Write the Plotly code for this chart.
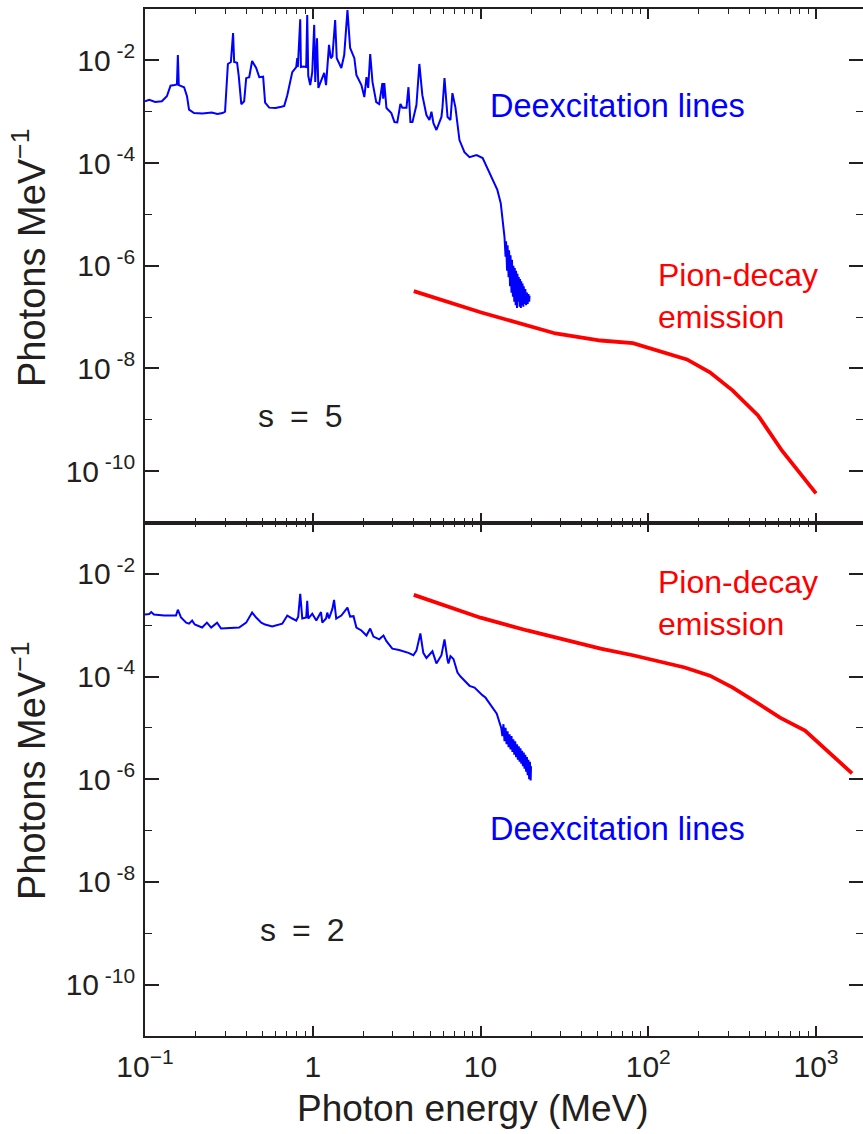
import plotly.graph_objects as go

# ---------------- data ----------------
# Top panel (s = 5): nuclear deexcitation line spectrum
top_deex_energy = [
    0.100, 0.106, 0.115, 0.126, 0.135, 0.142, 0.150, 0.155, 0.157, 0.159,
    0.171, 0.178, 0.183, 0.196, 0.220, 0.250, 0.270, 0.290, 0.300, 0.312,
    0.325, 0.335, 0.340, 0.354, 0.362, 0.375, 0.390, 0.401, 0.418, 0.435,
    0.460, 0.480, 0.506, 0.520, 0.550, 0.600, 0.650, 0.676, 0.705, 0.755,
    0.797, 0.808, 0.815, 0.842, 0.850, 0.880, 0.914, 0.927, 0.940, 0.966,
    0.993, 1.02, 1.035, 1.06, 1.08, 1.12, 1.17, 1.20, 1.25, 1.28,
    1.31, 1.36, 1.39, 1.48, 1.54, 1.61, 1.67, 1.77, 1.82, 1.95,
    2.03, 2.09, 2.14, 2.20, 2.27, 2.39, 2.49, 2.60, 2.63, 2.67,
    2.75, 2.94, 3.07, 3.19, 3.33, 3.42, 3.62, 3.72, 3.82, 3.93,
    4.15, 4.32, 4.50, 4.76, 4.96, 5.10, 5.24, 5.46, 5.85, 5.93,
    6.10, 6.36, 6.62, 6.80, 7.09, 7.49, 8.02, 8.60, 9.47, 10.3,
    10.9, 11.6, 12.6, 13.2, 13.9, 14.1, 14.2, 14.4, 14.5, 14.7,
    14.8, 15.0, 15.1, 15.3, 15.4, 15.6, 15.7, 15.9, 16.0, 16.2,
    16.3, 16.5, 16.6, 16.8, 16.9, 17.1, 17.2, 17.4, 17.5, 17.7,
    17.8, 18.0, 18.1, 18.3, 18.5, 18.7, 18.9, 19.1, 19.3, 19.5, 19.6,
]
top_deex_flux = [
    1.6e-3, 1.7e-3, 1.55e-3, 1.6e-3, 2.0e-3, 3.2e-3, 3.3e-3, 3.4e-3, 1.27e-2, 3.3e-3,
    3.0e-3, 2.0e-3, 1.1e-3, 9.4e-4, 9.2e-4, 9.6e-4, 9.0e-4, 9.4e-4, 1.0e-3, 8.5e-3,
    9.3e-3, 3.4e-2, 9.3e-3, 9.0e-3, 5.0e-3, 1.4e-3, 1.6e-3, 4.5e-3, 4.7e-3, 9.7e-3,
    7.1e-3, 4.7e-3, 4.8e-3, 1.5e-3, 1.2e-3, 1.18e-3, 1.25e-3, 1.3e-3, 2.1e-3, 5.9e-3,
    7.4e-3, 1.1e-2, 7.4e-3, 6.3e-2, 7.4e-3, 7.6e-3, 7.4e-3, 7.6e-2, 5.0e-3, 3.3e-3,
    5.9e-3, 4.9e-2, 3.8e-3, 2.7e-2, 2.9e-3, 3.8e-3, 5.7e-3, 3.3e-3, 2.0e-2, 1.1e-2,
    1.2e-2, 6.1e-2, 1.1e-2, 7.1e-3, 1.27e-2, 9.5e-2, 1.74e-2, 1.1e-2, 5.2e-3, 3.3e-3,
    1.93e-3, 4.7e-3, 2.9e-3, 1.33e-2, 3.8e-3, 1.54e-3, 1.41e-3, 3.6e-3, 1.8e-3, 3.6e-3,
    1.18e-3, 9.4e-4, 6.3e-4, 6.2e-4, 1.41e-3, 1.2e-3, 1.2e-3, 3.0e-3, 6.3e-4, 6.3e-4,
    1.35e-3, 8.5e-3, 2.1e-3, 8.6e-4, 6.9e-4, 1.0e-3, 6.0e-4, 4.4e-4, 7.9e-4, 1.2e-3,
    4.5e-3, 7.9e-4, 6.9e-4, 2.3e-3, 1.2e-3, 2.8e-4, 1.63e-4, 1.30e-4, 1.43e-4, 1.25e-4,
    8.3e-5, 5.3e-5, 3.0e-5, 1.65e-5, 3.6e-6, 1.5e-6, 3.0e-6, 8.0e-7, 2.5e-6, 6.0e-7,
    2.0e-6, 4.0e-7, 1.6e-6, 3.0e-7, 1.3e-6, 2.5e-7, 1.0e-6, 2.0e-7, 9.0e-7, 1.7e-7,
    8.0e-7, 1.5e-7, 7.0e-7, 2.0e-7, 6.0e-7, 1.6e-7, 5.5e-7, 1.5e-7, 5.0e-7, 1.7e-7,
    4.5e-7, 1.6e-7, 4.0e-7, 1.8e-7, 3.5e-7, 1.7e-7, 3.0e-7, 1.8e-7, 2.8e-7, 2.0e-7, 2.6e-7,
]

# Top panel: pion-decay emission
top_pion_energy = [4, 10, 28, 52, 81, 117, 170, 233, 319, 451, 627, 1000]
top_pion_flux = [3.2e-7, 1.24e-7, 4.8e-8, 3.5e-8, 3.1e-8, 2.2e-8, 1.5e-8,
                 8.4e-9, 3.7e-9, 1.22e-9, 2.5e-10, 3.7e-11]

# Bottom panel (s = 2): nuclear deexcitation line spectrum
bot_deex_energy = [
    0.100, 0.106, 0.109, 0.113, 0.130, 0.153, 0.157, 0.164, 0.176, 0.183,
    0.191, 0.198, 0.219, 0.234, 0.248, 0.269, 0.284, 0.364, 0.401, 0.418,
    0.435, 0.460, 0.493, 0.520, 0.573, 0.658, 0.705, 0.755, 0.797, 0.819,
    0.842, 0.866, 0.914, 0.927, 0.940, 0.993, 1.05, 1.12, 1.14, 1.20,
    1.22, 1.25, 1.31, 1.34, 1.38, 1.48, 1.61, 1.67, 1.75, 1.82,
    1.95, 2.09, 2.20, 2.30, 2.49, 2.64, 2.75, 2.98, 3.27, 3.72,
    3.98, 4.15, 4.38, 4.56, 4.76, 5.17, 5.46, 5.85, 6.10, 6.36,
    6.44, 6.62, 6.90, 7.29, 7.60, 8.60, 9.21, 10.3, 10.7, 12.5,
    13.3, 13.5, 13.7, 13.9, 14.1, 14.3, 14.5, 14.7, 14.9, 15.1,
    15.3, 15.5, 15.7, 15.9, 16.1, 16.3, 16.5, 16.7, 16.9, 17.1,
    17.3, 17.5, 17.7, 17.9, 18.1, 18.3, 18.5, 18.7, 18.9, 19.1,
    19.3, 19.5, 19.7, 19.9, 20.0,
]
bot_deex_flux = [
    1.62e-3, 1.65e-3, 1.8e-3, 1.62e-3, 1.54e-3, 1.54e-3, 2.0e-3, 1.41e-3, 1.12e-3, 1.07e-3,
    1.23e-3, 1.03e-3, 9.0e-4, 1.12e-3, 9.0e-4, 1.12e-3, 8.6e-4, 9.0e-4, 1.12e-3, 1.41e-3,
    1.76e-3, 1.41e-3, 1.12e-3, 1.03e-3, 9.4e-4, 1.07e-3, 1.54e-3, 1.35e-3, 1.23e-3, 1.47e-3,
    4.1e-3, 1.35e-3, 1.41e-3, 3.0e-3, 1.35e-3, 1.68e-3, 1.23e-3, 1.8e-3, 1.12e-3, 1.35e-3,
    1.76e-3, 1.35e-3, 2.1e-3, 3.1e-3, 1.35e-3, 1.54e-3, 2.2e-3, 1.47e-3, 1.5e-3, 9.0e-4,
    7.9e-4, 6.3e-4, 8.6e-4, 6.0e-4, 5.3e-4, 6.3e-4, 4.9e-4, 3.5e-4, 3.3e-4, 2.9e-4,
    2.6e-4, 3.2e-4, 6.9e-4, 2.9e-4, 2.3e-4, 3.1e-4, 1.8e-4, 2.6e-4, 5.3e-4, 2.1e-4,
    1.8e-4, 2.5e-4, 2.2e-4, 1.2e-4, 1.0e-4, 6.6e-5, 6.1e-5, 4.3e-5, 3.9e-5, 1.9e-5,
    9.9e-6, 6.9e-6, 1.18e-5, 5.5e-6, 1.0e-5, 4.8e-6, 8.6e-6, 4.2e-6, 7.5e-6, 3.8e-6,
    6.9e-6, 3.4e-6, 6.0e-6, 3.0e-6, 5.5e-6, 2.7e-6, 4.8e-6, 2.4e-6, 4.4e-6, 2.2e-6,
    4.0e-6, 2.0e-6, 3.6e-6, 1.8e-6, 3.3e-6, 1.6e-6, 3.0e-6, 1.4e-6, 2.7e-6, 1.2e-6,
    2.4e-6, 1.0e-6, 2.2e-6, 9.5e-7, 1.8e-6,
]

# Bottom panel: pion-decay emission
bot_pion_energy = [4, 10, 19, 52, 81, 165, 233, 319, 444, 610, 860, 1640]
bot_pion_flux = [3.9e-3, 1.4e-3, 7.9e-4, 3.5e-4, 2.6e-4, 1.5e-4, 1.04e-4,
                 6.1e-5, 3.1e-5, 1.58e-5, 8.9e-6, 1.3e-6]

# Tick labels
x_tick_vals = [0.1, 1, 10, 100, 1000]
x_tick_text = ["10<sup>\u22121</sup>", "1", "10", "10<sup>2</sup>", "10<sup>3</sup>"]
x_minor_vals = [0.2, 0.3, 0.4, 0.5, 0.6, 0.7, 0.8, 0.9,
                2, 3, 4, 5, 6, 7, 8, 9,
                20, 30, 40, 50, 60, 70, 80, 90,
                200, 300, 400, 500, 600, 700, 800, 900]
y_tick_vals = [1e-10, 1e-8, 1e-6, 1e-4, 1e-2]
y_tick_text = ["10<sup> -10</sup>", "10<sup> -8</sup>", "10<sup> -6</sup>",
               "10<sup> -4</sup>", "10<sup> -2</sup>"]
y_minor_vals = [1e-9, 1e-7, 1e-5, 1e-3]

# ---------------- figure ----------------
FONT = "Liberation Sans, Arial, Helvetica, sans-serif"
BLUE = "#0000ff"
RED = "#ff0000"
INK = "#231f20"

fig = go.Figure()
fig.add_trace(go.Scatter(x=top_deex_energy, y=top_deex_flux, mode="lines",
                         line=dict(color=BLUE, width=2), xaxis="x2", yaxis="y2"))
fig.add_trace(go.Scatter(x=top_pion_energy, y=top_pion_flux, mode="lines",
                         line=dict(color=RED, width=3.8), xaxis="x2", yaxis="y2"))
fig.add_trace(go.Scatter(x=bot_deex_energy, y=bot_deex_flux, mode="lines",
                         line=dict(color=BLUE, width=2), xaxis="x", yaxis="y"))
fig.add_trace(go.Scatter(x=bot_pion_energy, y=bot_pion_flux, mode="lines",
                         line=dict(color=RED, width=3.8), xaxis="x", yaxis="y"))

xcommon = dict(type="log", range=[-1, 3.28], showgrid=False, zeroline=False,
               showline=True, linecolor=INK, linewidth=1.6, mirror="allticks",
               ticks="inside", tickmode="array", tickvals=x_tick_vals, ticktext=x_tick_text,
               ticklen=10, tickwidth=1.6, tickcolor=INK, automargin=False,
               minor=dict(tickmode="array", tickvals=x_minor_vals, ticks="inside",
                          ticklen=5, tickwidth=1.3, tickcolor=INK, showgrid=False),
               tickfont=dict(family=FONT, size=30, color=INK))
ycommon = dict(type="log", range=[-11, -1], showgrid=False, zeroline=False,
               showline=True, linecolor=INK, linewidth=1.6, mirror="allticks",
               ticks="inside", tickmode="array", tickvals=y_tick_vals, ticktext=y_tick_text,
               ticklen=14, tickwidth=1.6, tickcolor=INK, automargin=False,
               minor=dict(tickmode="array", tickvals=y_minor_vals, ticks="inside",
                          ticklen=7, tickwidth=1.3, tickcolor=INK, showgrid=False),
               tickfont=dict(family=FONT, size=30, color=INK), ticklabelstandoff=2)

fig.update_layout(
    width=863, height=1134,
    margin=dict(l=145, r=0, t=9, b=98, autoexpand=False),
    paper_bgcolor="white", plot_bgcolor="white",
    showlegend=False,
    font=dict(family=FONT, color=INK),
    xaxis=dict(xcommon, anchor="y", domain=[0, 1], ticklabelstandoff=3),
    xaxis2=dict(xcommon, anchor="y2", domain=[0, 1], matches="x", showticklabels=False),
    yaxis=dict(ycommon, anchor="x", domain=[0, 0.5]),
    yaxis2=dict(ycommon, anchor="x2", domain=[0.5, 1]),
)

def note(text, x, y, color, size=32, xanchor="left", angle=0):
    fig.add_annotation(text=text, x=x, y=y, xref="paper", yref="paper",
                       xanchor=xanchor, yanchor="middle", showarrow=False,
                       textangle=angle, align="left",
                       font=dict(family=FONT, size=size, color=color))

# panel labels
note("Deexcitation lines", 0.478, 0.9056, BLUE, size=32.5)
note("Pion-decay<br>emission", 0.712, 0.721, RED)
note("s\u2002=\u20025", 0.155, 0.6037, INK)
note("Pion-decay<br>emission", 0.712, 0.4221, RED)
note("Deexcitation lines", 0.478, 0.2011, BLUE, size=32.5)
note("s\u2002=\u20022", 0.157, 0.1037, INK)

# axis titles
note("Photons MeV<sup>\u22121</sup>", -0.1616, 0.7575, INK, size=38, xanchor="center", angle=-90)
note("Photons MeV<sup>\u22121</sup>", -0.1616, 0.258, INK, size=38, xanchor="center", angle=-90)
note("Photon energy (MeV)", 0.457, -0.071, INK, size=37, xanchor="center")

# place the 863x1134 figure at the page origin (no default body margin)
fig.write_html("out.html", config={"displayModeBar": False},
               post_script="document.body.style.margin='0';document.body.style.overflow='hidden';")
